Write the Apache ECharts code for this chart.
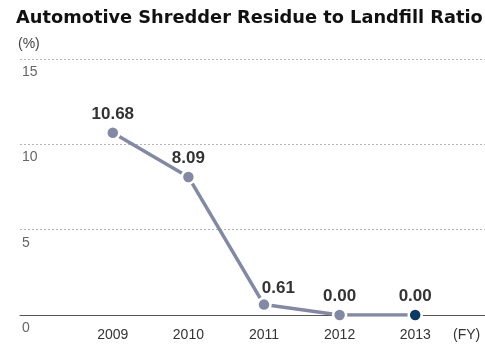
<!DOCTYPE html>
<html>
<head>
<meta charset="utf-8">
<script src="https://cdn.jsdelivr.net/npm/echarts@6/dist/echarts.min.js"></script>
<style>
html,body{margin:0;padding:0;background:#fff;}
#chart{width:485px;height:345px;}
</style>
</head>
<body>
<div id="chart"></div>
<script>
const title = 'Automotive Shredder Residue to Landfill Ratio';
const unitLabel = '(%)';
const xUnitLabel = '(FY)';
const years = ['2009', '2010', '2011', '2012', '2013'];
const ratio = [10.68, 8.09, 0.61, 0.00, 0.00];

const lineColor = '#8389a5';
const lastColor = '#0b3a64';
const font = '"Liberation Sans", Arial, sans-serif';

const chart = echarts.init(document.getElementById('chart'), null, {renderer: 'canvas'});

const seriesData = ratio.map((v, i) => {
  const d = {value: v};
  if (i === ratio.length - 1) d.itemStyle = {color: lastColor};
  if (i === 2) d.label = {position: 'right', offset: [-12, -16]};
  return d;
});

chart.setOption({
  animation: false,
  title: [{
    text: title, left: 11, top: 4,
    textStyle: {fontFamily: '"DejaVu Sans", sans-serif', fontSize: 17.8, fontWeight: 'bold', color: '#111'}
  }, {
    text: unitLabel, left: 13, top: 32,
    textStyle: {fontFamily: font, fontSize: 14, fontWeight: 'normal', color: '#444'}
  }],
  grid: [
    {left: 20, right: 0, top: 59, bottom: 30},
    {left: 75, right: 32, top: 59, bottom: 30}
  ],
  xAxis: [{
    gridIndex: 0, type: 'category', data: [''],
    axisLine: {show: true, lineStyle: {color: '#555', width: 1}},
    axisTick: {show: false}, axisLabel: {show: false}
  }, {
    gridIndex: 1, type: 'category', data: years, boundaryGap: true,
    axisLine: {show: false}, axisTick: {show: false},
    axisLabel: {margin: 13, fontFamily: font, fontSize: 14, color: '#333'},
    name: xUnitLabel, nameLocation: 'end', nameGap: 0,
    nameTextStyle: {fontFamily: font, fontSize: 14, color: '#333', align: 'left', verticalAlign: 'top', padding: [13, 0, 0, 0]}
  }],
  yAxis: [{
    gridIndex: 0, type: 'value', min: 0, max: 15, interval: 5,
    axisLine: {show: false}, axisTick: {show: false},
    axisLabel: {inside: true, margin: 2, fontFamily: font, fontSize: 14, color: '#666',
      verticalAlign: 'top', padding: [6, 0, 0, 0]},
    splitLine: {show: true, lineStyle: {color: '#b5b5b5', type: [2, 2], width: 1}}
  }, {
    gridIndex: 1, type: 'value', min: 0, max: 15, interval: 5,
    axisLine: {show: false}, axisTick: {show: false}, axisLabel: {show: false},
    splitLine: {show: false}
  }],
  series: [{
    type: 'line', xAxisIndex: 1, yAxisIndex: 1,
    data: seriesData,
    symbol: 'circle', symbolSize: 13,
    lineStyle: {color: lineColor, width: 3.5},
    itemStyle: {color: lineColor, borderColor: '#fff', borderWidth: 2.5},
    label: {show: true, position: 'top', distance: 2, formatter: p => p.value.toFixed(2),
      fontFamily: font, fontSize: 17, fontWeight: 'bold', color: '#333'},
    z: 5
  }]
});
</script>
</body>
</html>
